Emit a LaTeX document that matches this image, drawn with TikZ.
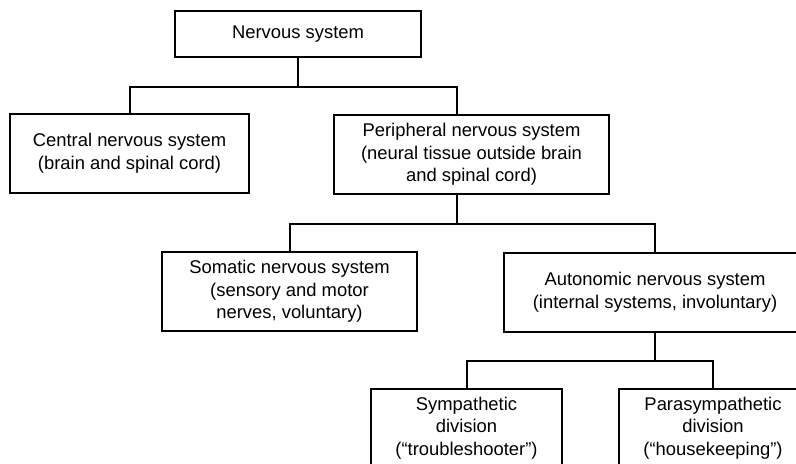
\documentclass[tikz,border=0pt]{standalone}
\usepackage{fontspec}
\setmainfont{Liberation Sans}
\usetikzlibrary{positioning, calc}
\newcommand{\boxfont}{\fontsize{13.8pt}{17pt}\selectfont}
\tikzset{
  box/.style={draw, line width=0.9pt, align=center, inner sep=0pt, font=\boxfont},
  link/.style={line width=1.5pt},
}

\begin{document}
\begin{tikzpicture}[x=0.75pt, y=-0.75pt]
    \useasboundingbox (0,0) rectangle (796,464);
    \clip (0,0) rectangle (796,464);
    % levels of the tree, positions in pixels of the page
    \node[box, minimum width=184.5pt, minimum height=34.5pt] (ns) at (298,34) {Nervous system};
    \node[box, minimum width=179.25pt, minimum height=59.25pt] (cns) at (129.5,153.5)
      {Central nervous system\\(brain and spinal cord)};
    \node[box, minimum width=206.25pt, minimum height=59.25pt] (pns) at (471.5,154.5)
      {Peripheral nervous system\\(neural tissue outside brain\\and spinal cord)};
    \node[box, minimum width=191.25pt, minimum height=59.25pt] (sns) at (289.5,291.5)
      {Somatic nervous system\\(sensory and motor\\nerves, voluntary)};
    \node[box, minimum width=226.5pt, minimum height=59.25pt] (ans) at (655,292.5)
      {Autonomic nervous system\\(internal systems, involuntary)};
    \node[box, minimum width=143.25pt, minimum height=58.5pt] (sym) at (466.5,428)
      {Sympathetic\\division\\(“troubleshooter”)};
    \node[box, minimum width=141pt, minimum height=58.5pt] (para) at (713,428)
      {Parasympathetic\\division\\(“housekeeping”)};
    % branches
    \coordinate (pnsT) at ($(pns.north)+(-14.5,0)$);
    \coordinate (pnsB) at ($(pns.south)+(-14.5,0)$);
    \path (ns.south) ++(0,29) coordinate (j1);
    \path (pnsB) ++(0,29) coordinate (j2);
    \path (ans.south) ++(0,28) coordinate (j3);
    \foreach \t in {cns.north, pnsT} { \draw[link] (ns.south) -- (j1) -| (\t); }
    \foreach \t in {sns.north, ans.north} { \draw[link] (pnsB) -- (j2) -| (\t); }
    \foreach \t in {sym.north, para.north} { \draw[link] (ans.south) -- (j3) -| (\t); }
  \end{tikzpicture}
\end{document}
